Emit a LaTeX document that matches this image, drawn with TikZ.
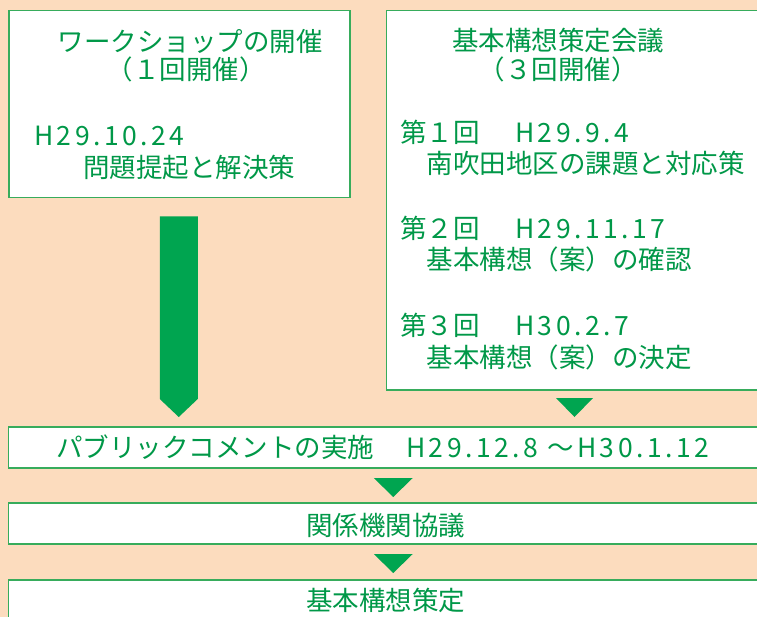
\documentclass[tikz,border=0pt]{standalone}
\usepackage{fontspec}
\setmainfont{Noto Sans CJK JP}
\newfontfamily\latfont[LetterSpace=13]{Noto Sans CJK JP}
\usetikzlibrary{calc}
\definecolor{bgpeach}{RGB}{252,220,190}
\definecolor{boxline}{RGB}{55,172,92}
\definecolor{txtgreen}{RGB}{0,152,72}
\definecolor{arrowgreen}{RGB}{0,165,80}
\begin{document}
\begin{tikzpicture}[x=1pt,y=-1pt,
  box/.style={draw=boxline, line width=1.5pt, fill=white, inner sep=0pt, anchor=north west},
  txt/.style={text=txtgreen, inner sep=0pt, font=\fontsize{26.5}{30}\selectfont},
  arr/.style={fill=arrowgreen, draw=none}]
\useasboundingbox (0,0) rectangle (757,617);
\fill[bgpeach] (0,0) rectangle (757,617);
\clip (0,0) rectangle (757,617);
% boxes
\node[box, minimum width=341pt, minimum height=187pt] (ws) at (8,10) {};
\node[box, minimum width=390pt, minimum height=379pt] (kk) at (385.5,10) {};
\node[box, minimum width=770pt, minimum height=41pt] (pc) at (7.5,426) {};
\node[box, minimum width=770pt, minimum height=41pt] (kb) at (7.5,502) {};
\node[box, minimum width=770pt, minimum height=50pt] (kt) at (7.5,579) {};
% left box texts
\node[txt, anchor=base] (ws1) at (190,52) {ワークショップの開催};
\node[txt, anchor=base] (ws2) at (186,80) {（１回開催）};
\node[txt, anchor=base west] (ws3) at (34,146) {\latfont H29.10.24};
\node[txt, anchor=base west] (ws4) at (83,178) {問題提起と解決策};
% right box texts
\node[txt, anchor=base] (kk1) at (558,51) {基本構想策定会議};
\node[txt, anchor=base] (kk2) at (558,80) {（３回開催）};
\node[txt, anchor=base west] (kk3) at (400,143) {第１回};
\node[txt, anchor=base west] (kk3d) at (515,143) {\latfont H29.9.4};
\node[txt, anchor=base west] (kk4) at (400,174) {　南吹田地区の課題と対応策};
\node[txt, anchor=base west] (kk5) at (400,239) {第２回};
\node[txt, anchor=base west] (kk5d) at (515,239) {\latfont H29.11.17};
\node[txt, anchor=base west] (kk6) at (400,270) {　基本構想（案）の確認};
\node[txt, anchor=base west] (kk7) at (400,335) {第３回};
\node[txt, anchor=base west] (kk7d) at (515,335) {\latfont H30.2.7};
\node[txt, anchor=base west] (kk8) at (400,367) {　基本構想（案）の決定};
% bottom box texts
\node[txt, anchor=base west] (pc1) at (56,457) {パブリックコメントの実施};
\node[txt, anchor=base west] (pc2) at (406,457) {\latfont H29.12.8 ～H30.1.12};
\node[txt, anchor=base] (kb1) at (385.5,535) {関係機関協議};
\node[txt, anchor=base] (kt1) at (385.5,610) {基本構想策定};
% arrows
\fill[arr] ($(ws.south)+(-19.5,18)$) -- ($(ws.south)+(18.5,18)$) -- ($(pc.north -| ws.south)+(18.5,-27)$)
  -- ($(pc.north -| ws.south)+(-0.5,-9)$) -- ($(pc.north -| ws.south)+(-19.5,-27)$) -- cycle;
\coordinate (k1) at (574.5,417);
\fill[arr] (k1) -- ++(-18.5,-19) -- ++(37,0) -- cycle;
\coordinate (k2) at ($(kb.north)+(0,-5)$);
\fill[arr] (k2) -- ++(-19.5,-19) -- ++(39,0) -- cycle;
\coordinate (k3) at ($(kt.north)+(0,-6)$);
\fill[arr] (k3) -- ++(-19.5,-19) -- ++(39,0) -- cycle;
\end{tikzpicture}
\end{document}
